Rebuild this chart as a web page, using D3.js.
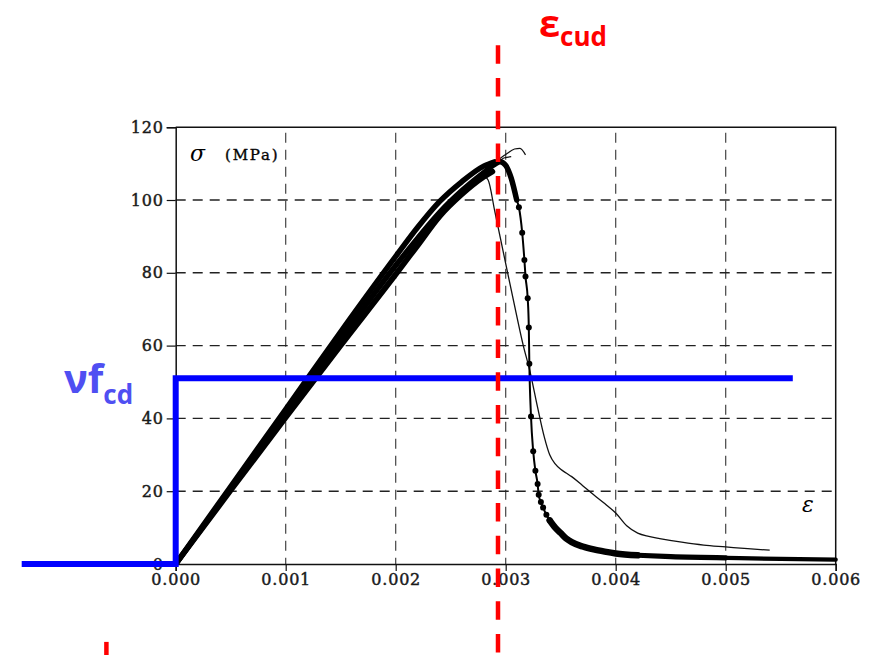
<!DOCTYPE html>
<html>
<head>
<meta charset="utf-8">
<script src="https://cdn.jsdelivr.net/npm/d3@7"></script>
<style>
  body { margin: 0; background: #fff; }
  svg { display: block; }
  .tick-label { font-family: "DejaVu Serif", serif; font-size: 16px; fill: #1a1a1a; stroke: #1a1a1a; stroke-width: 0.45px; letter-spacing: 0.8px; }
</style>
</head>
<body>
<div id="chart"></div>
<script>
// STRESS-STRAIN CURVES (sigma in MPa vs strain) WITH DESIGN LIMITS OVERLAID

// axis ticks
var xMajor = [0, 0.001, 0.002, 0.003, 0.004, 0.005, 0.006];
var yMajor = [0, 20, 40, 60, 80, 100, 120];

// rising branches of the thick bundle (several load cycles drawn on top of each other)
var riseA = [[0, 0], [0.0005, 21.3], [0.001, 42.5], [0.0015, 63.8], [0.002, 84.5], [0.0022, 92.5],
  [0.0024, 99.6], [0.0026, 105], [0.0028, 109.3], [0.0029, 110.5]];
var riseB = [[0, 0], [0.0005, 20.7], [0.001, 41.3], [0.0015, 61.8], [0.002, 82], [0.0022, 89.5],
  [0.0024, 96.6], [0.0026, 102.5], [0.0028, 107.5], [0.0029, 109.8], [0.00295, 110.5], [0.003, 109.5],
  [0.00305, 106], [0.0031, 100]];
var riseC = [[0, 0], [0.0005, 20.2], [0.001, 40.2], [0.0015, 60], [0.002, 79.5], [0.0022, 87.5],
  [0.0024, 95.5], [0.0026, 101.5], [0.0028, 106.3], [0.00288, 107.8]];

// steep drop of the thick curve (drawn with markers) and its long tail
var thickDrop = [[0.0031, 100], [0.00312, 98], [0.00315, 91], [0.00317, 83.5], [0.00318, 79],
  [0.0032, 73], [0.00321, 65], [0.003215, 55], [0.00323, 40.5], [0.00325, 31], [0.00327, 25.6],
  [0.00329, 22], [0.0033, 19], [0.00332, 17], [0.00334, 15.5], [0.00337, 13.5], [0.0034, 12]];
var tailNear = [[0.0034, 12], [0.00345, 10], [0.0035, 8.5], [0.00355, 7], [0.0036, 6], [0.0037, 4.8],
  [0.0038, 4], [0.0039, 3.4], [0.004, 2.9], [0.0042, 2.4]];
var tailMid = [[0.0042, 2.4], [0.0045, 2], [0.005, 1.7]];
var tailFar = [[0.005, 1.7], [0.0055, 1.4], [0.006, 1.2]];

// thin test curve
var thinCurve = [[0, 0], [0.001, 40.5], [0.002, 80.5], [0.0025, 99.5], [0.0027, 105], [0.00278, 107],
  [0.00284, 105.5], [0.0029, 97], [0.003, 82.5], [0.00307, 72.5], [0.00316, 60], [0.00322, 53],
  [0.00329, 43], [0.00335, 35], [0.0034, 30], [0.00345, 27.5], [0.0035, 26], [0.00355, 25],
  [0.0036, 24], [0.0037, 21.5], [0.0038, 19], [0.0039, 16.6], [0.004, 14], [0.0041, 10.5],
  [0.0042, 8.5], [0.0043, 7.6], [0.0044, 7], [0.0046, 6], [0.0048, 5.2], [0.005, 4.7],
  [0.0052, 4.2], [0.0054, 3.8]];

// small unloading hooks at the peak
var hookA = [[0.00292, 110.8], [0.003, 112.5], [0.00308, 114], [0.00313, 114.2], [0.00318, 112.4]];
var hookB = [[0.00293, 110.3], [0.00299, 111.6], [0.00305, 111.9]];

// design law overlay (blue) and limit strain (red)
var designLaw = [[-0.0014, 0], [0, 0], [0, 51], [0.00561, 51]];
var ecud = 0.00293;
var redSpan = [142.5, -26];      // sigma range covered by the red dashed line
var redMark = [-0.00063, -21.4, -26];

var W = 877, H = 655;

var svg = d3.select('#chart').append('svg')
    .attr('width', W)
    .attr('height', H);

svg.append('rect').attr('width', W).attr('height', H).attr('fill', '#fff');

var x = d3.scaleLinear().domain([0, 0.006]).range([175.7, 835.7]);
var y = d3.scaleLinear().domain([0, 120]).range([564, 127.2]);

// grid (dashed)
var grid = svg.append('g').attr('class', 'grid');
grid.selectAll('line.gx')
    .data(xMajor.slice(1, -1))
  .enter().append('line')
    .attr('x1', (d) => x(d)).attr('x2', (d) => x(d))
    .attr('y1', y(118.5)).attr('y2', y(0))
    .attr('stroke', '#444').attr('stroke-width', 1.2)
    .attr('stroke-dasharray', '10,7');
grid.selectAll('line.gy')
    .data(yMajor.slice(1, -1))
  .enter().append('line')
    .attr('x1', x(0)).attr('x2', x(0.006))
    .attr('y1', (d) => y(d)).attr('y2', (d) => y(d))
    .attr('stroke', '#222').attr('stroke-width', 1.4)
    .attr('stroke-dasharray', '10,7');

// frame
svg.append('path')
    .attr('d', `M${x(0)},${y(120)}H${x(0.006)}V${y(0)}`)
    .attr('fill', 'none').attr('stroke', '#111').attr('stroke-width', 1.5);

// x axis
var xAxis = svg.append('g').attr('transform', `translate(0,${y(0)})`);
xAxis.call(d3.axisBottom(x).tickValues(d3.range(0, 61).map((i) => i / 10000)).tickSize(4).tickFormat(''));
xAxis.call(d3.axisBottom(x).tickValues(xMajor).tickSize(7).tickFormat(d3.format('.3f')));
xAxis.select('.domain').attr('stroke', '#111').attr('stroke-width', 1.5);
xAxis.selectAll('.tick line').attr('stroke', '#111').attr('stroke-width', 1.2);
xAxis.selectAll('.tick text')
    .attr('class', 'tick-label')
    .attr('font-family', null).attr('font-size', null)
    .attr('y', 10);

// y axis
var yAxis = svg.append('g').attr('transform', `translate(${x(0)},0)`);
yAxis.call(d3.axisLeft(y).tickValues(d3.range(0, 61).map((i) => i * 2)).tickSize(4).tickFormat(''));
yAxis.call(d3.axisLeft(y).tickValues(yMajor).tickSize(9).tickFormat(d3.format('d')));
yAxis.select('.domain').attr('stroke', '#111').attr('stroke-width', 1.5);
yAxis.selectAll('.tick line').attr('stroke', '#111').attr('stroke-width', 1.2);
yAxis.selectAll('.tick text')
    .attr('class', 'tick-label')
    .attr('font-family', null).attr('font-size', null)
    .attr('x', -12);

// axis titles inside the plot
svg.append('text')
    .attr('x', 190).attr('y', 161)
    .attr('font-family', 'DejaVu Serif').attr('font-style', 'italic').attr('font-size', 22)
    .text('σ');
svg.append('text')
    .attr('x', 225).attr('y', 160)
    .attr('font-family', 'DejaVu Serif').attr('font-size', 15)
    .attr('stroke', '#111').attr('stroke-width', 0.4).attr('letter-spacing', 1.8)
    .text('(MPa)');
svg.append('text')
    .attr('x', 802).attr('y', 512)
    .attr('font-family', 'DejaVu Serif').attr('font-style', 'italic').attr('font-size', 22)
    .text('ε');

// curves
var line = d3.line()
    .x((d) => x(d[0]))
    .y((d) => y(d[1]))
    .curve(d3.curveMonotoneX);

var curves = svg.append('g').attr('class', 'curves');

curves.append('path').datum(thinCurve)
    .attr('d', line).attr('fill', 'none').attr('stroke', '#111').attr('stroke-width', 1.3);
curves.selectAll('path.hook')
    .data([hookA, hookB])
  .enter().append('path')
    .attr('d', line).attr('fill', 'none').attr('stroke', '#111').attr('stroke-width', 1.2);

curves.selectAll('path.rise')
    .data([riseA, riseC, riseB])
  .enter().append('path')
    .attr('d', line).attr('fill', 'none').attr('stroke', '#000')
    .attr('stroke-width', 5.5).attr('stroke-linejoin', 'round').attr('stroke-linecap', 'round');

curves.append('path').datum(thickDrop)
    .attr('d', line).attr('fill', 'none').attr('stroke', '#000').attr('stroke-width', 2);

// tail gets thinner to the right (markers overlap less)
curves.selectAll('path.tail')
    .data([{ pts: tailNear, w: 6.5 }, { pts: tailMid, w: 5.2 }, { pts: tailFar, w: 4.2 }])
  .enter().append('path')
    .attr('d', (d) => line(d.pts)).attr('fill', 'none').attr('stroke', '#000')
    .attr('stroke-width', (d) => d.w).attr('stroke-linecap', 'round');

curves.selectAll('circle.marker')
    .data(thickDrop.slice(1))
  .enter().append('circle')
    .attr('cx', (d) => x(d[0]))
    .attr('cy', (d) => y(d[1]))
    .attr('r', 3)
    .attr('fill', '#000');

// blue design law
svg.append('path').datum(designLaw)
    .attr('d', d3.line().x((d) => x(d[0])).y((d) => y(d[1])))
    .attr('fill', 'none').attr('stroke', '#0000ff').attr('stroke-width', 6)
    .attr('stroke-linejoin', 'miter');

svg.append('text')
    .attr('x', 64).attr('y', 393)
    .attr('font-family', '"Open Sans", sans-serif').attr('font-weight', 700).attr('font-size', 40)
    .attr('fill', '#4f4ff2')
    .text('νf')
  .append('tspan')
    .attr('font-size', 26).attr('dy', 11)
    .text('cd');

// red limit strain
svg.append('line')
    .attr('x1', x(ecud)).attr('x2', x(ecud))
    .attr('y1', y(redSpan[0])).attr('y2', y(redSpan[1]))
    .attr('stroke', '#ff0000').attr('stroke-width', 4.5)
    .attr('stroke-dasharray', '18.5,14.2');
svg.append('line')
    .attr('x1', x(redMark[0])).attr('x2', x(redMark[0]))
    .attr('y1', y(redMark[1])).attr('y2', y(redMark[2]))
    .attr('stroke', '#ff0000').attr('stroke-width', 4.5);

svg.append('text')
    .attr('x', 539).attr('y', 37)
    .attr('font-family', '"Open Sans", sans-serif').attr('font-weight', 700).attr('font-size', 38)
    .attr('fill', '#ff0000')
    .text('ε')
  .append('tspan')
    .attr('font-size', 26).attr('dy', 9)
    .text('cud');
</script>
</body>
</html>
